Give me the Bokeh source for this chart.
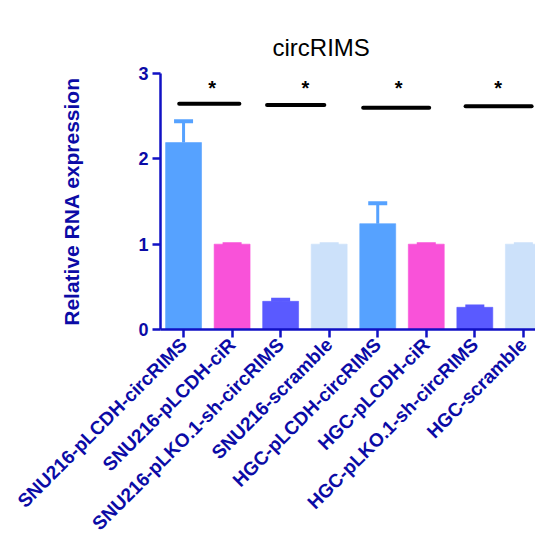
import math
from bokeh.plotting import figure
from bokeh.models import FixedTicker, ColumnDataSource, Whisker, TeeHead
from bokeh.embed import file_html
from bokeh.resources import INLINE
from bokeh.core.properties import value

categories = ["SNU216-pLCDH-circRIMS", "SNU216-pLCDH-ciR", "SNU216-pLKO.1-sh-circRIMS",
              "SNU216-scramble", "HGC-pLCDH-circRIMS", "HGC-pLCDH-ciR",
              "HGC-pLKO.1-sh-circRIMS", "HGC-scramble"]
values = [2.19, 1.0, 0.33, 1.0, 1.24, 1.0, 0.26, 1.0]
errors = [0.25, 0.0, 0.02, 0.0, 0.24, 0.0, 0.01, 0.0]
colors = ["#56A2FF", "#F952D9", "#5A5AFF", "#CCE1FA", "#56A2FF", "#F952D9", "#5A5AFF", "#CCE1FA"]
sig_x0 = [-0.09, 1.72, 3.70, 5.81]
sig_x1 = [1.15, 2.90, 5.06, 7.17]
sig_y = [2.645, 2.63, 2.60, 2.615]
star_x = [0.59, 2.51, 4.43, 6.48]
star_y = [2.83, 2.83, 2.83, 2.83]
y_ticks = [0, 1, 2, 3]
title_text = "circRIMS"

AX = "#1111C4"
LAB = "#0B0BA6"

xs = list(range(len(categories)))
src = ColumnDataSource(dict(x=xs, top=values, upper=[v + e for v, e in zip(values, errors)],
                            base=values, color=colors))

p = figure(width=535, height=544, output_backend="svg", toolbar_location=None,
           x_range=(-0.475, 7.25), y_range=(0, 3),
           min_border_left=160, min_border_right=0, min_border_top=73, min_border_bottom=212)
p.title.text = title_text
p.title.text_font = "Liberation Sans"
p.title.text_font_size = "24px"
p.title.text_font_style = "normal"
p.title.text_color = "black"
p.title.align = "left"
p.title.vertical_align = "top"
p.title.offset = 112
p.title.standoff = 22

p.vbar(x="x", top="top", bottom=0, width=0.74, fill_color="color", line_color="color",
       line_alpha=0.6, source=src)
w = Whisker(base="x", upper="upper", lower="base", source=src, dimension="height",
            line_color="color", line_width=3,
            upper_head=TeeHead(size=19, line_color="color", line_width=4),
            lower_head=None)
p.add_layout(w)

p.segment(x0=sig_x0, x1=sig_x1, y0=sig_y, y1=sig_y, line_color="black", line_width=4,
          line_cap="round")
p.text(x=star_x, y=star_y, text=["*"] * len(star_x), text_font=value("Liberation Sans"),
       text_font_size="20px", text_font_style="bold", text_align="center",
       text_baseline="middle", text_color="black")

p.grid.visible = False
p.outline_line_color = None

p.yaxis.ticker = FixedTicker(ticks=y_ticks)
p.yaxis.minor_tick_line_color = None
p.yaxis.axis_label = "Relative RNA expression"
p.yaxis.axis_label_text_font = "Liberation Sans"
p.yaxis.axis_label_text_font_size = "21px"
p.yaxis.axis_label_text_font_style = "bold"
p.yaxis.axis_label_text_color = LAB
p.yaxis.axis_label_standoff = 52

p.xaxis.ticker = FixedTicker(ticks=xs)
p.xaxis.major_label_overrides = {i: c for i, c in enumerate(categories)}
p.xaxis.major_label_orientation = math.pi / 4
p.xaxis.minor_tick_line_color = None

for ax in (p.xaxis, p.yaxis):
    ax.axis_line_color = AX
    ax.axis_line_width = 2.5
    ax.major_tick_line_color = AX
    ax.major_tick_line_width = 2.5
    ax.major_tick_out = 8
    ax.major_tick_in = 0
    ax.major_label_text_font = "Liberation Sans"
    ax.major_label_text_font_style = "bold"
    ax.major_label_text_color = LAB
    ax.major_label_standoff = 4

p.yaxis.major_label_text_font_size = "18px"
p.xaxis.major_label_text_font_size = "19px"
p.xaxis.major_label_standoff = 4

open("out.html", "w").write(file_html(p, INLINE))
